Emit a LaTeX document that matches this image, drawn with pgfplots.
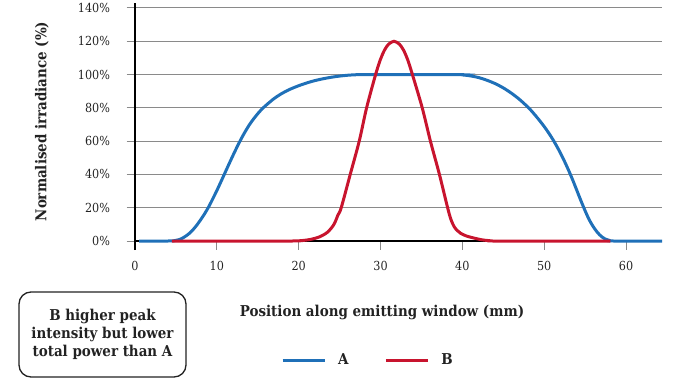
\documentclass[border=0pt]{standalone}
\usepackage{pgfplots}
\pgfplotsset{compat=1.18}
\usepackage{fontspec}
\setmainfont{DejaVu Serif Condensed}
\definecolor{cA}{HTML}{1F70B8}
\definecolor{cB}{HTML}{C8142E}
\definecolor{gridc}{HTML}{8A8A8A}
\definecolor{txt}{HTML}{222222}
\begin{document}
\begin{tikzpicture}[x=1bp,y=1bp]
\useasboundingbox (0,0) rectangle (680,380);
\begin{axis}[
  at={(135bp,139bp)}, anchor=south west,
  scale only axis, width=527bp, height=233bp,
  xmin=0, xmax=64.4, ymin=0, ymax=140,
  axis lines*=left,
  axis line style={black, line width=1.3bp},
  y axis line style={shorten >=-5bp, shorten <=-9bp},
  xtick={0,10,...,60}, ytick={0,20,...,140},
  yticklabels={0\%,20\%,40\%,60\%,80\%,100\%,120\%,140\%},
  tick align=outside, major tick length=8.5bp,
  tick style={gridc, line width=1bp},
  ymajorgrids, grid style={gridc, line width=1bp},
  /pgf/number format/assume math mode=true,
  tick label style={font=\fontsize{12.5}{14}\selectfont, text=txt},
  xticklabel style={yshift=-8bp},
  yticklabel style={xshift=-13bp},
  xlabel={Position along emitting window (mm)},
  ylabel={Normalised irradiance (\%)},
  label style={font=\bfseries\fontsize{15}{18}\selectfont, text=txt},
  xlabel style={at={(axis description cs:0.4687,-0.305)}, anchor=center},
  ylabel style={at={(axis description cs:-0.1765,0.513)}, anchor=center, rotate=0},
  legend style={at={(axis description cs:0.442,-0.511)}, anchor=center, draw=none,
    font=\bfseries\fontsize{15}{18}\selectfont, text=txt,
    /tikz/every odd column/.append style={column sep=10bp},
    /tikz/every even column/.append style={column sep=34bp}},
  legend columns=2,
  legend image code/.code={\draw[#1, line width=3bp] (0bp,0bp) -- (42bp,0bp);},
  clip=false,
]
\addplot[cA, line width=3bp, smooth] coordinates {
(0.5,0) (4,0) (4.7,0.1) (5,0.4) (5.5,1) (6,2.3) (6.5,4) (7,6.3) (7.5,9.2) (8,12.6) (8.5,16.3) (9,20.5) (9.5,25.3) (10,30.3) (10.5,35.6) (11,41) (11.5,46.4) (12,51.7) (12.5,56.8) (13,61.6) (13.5,66) (14,70) (14.5,73.4) (15,76.5) (15.5,79.2) (16,81.5) (17,85.6) (18,88.8) (19,91.3) (20,93.3) (21,95) (22,96.4) (23,97.5) (24,98.4) (25,99.1) (26,99.6) (27,99.9) (28,100) (39,100) (40,99.8) (41,99.2) (42,98.2) (43,96.6) (44,94.6) (45,92) (46,88.8) (47,85) (48,80.5) (48.5,77.9) (49,75) (49.5,72) (50,68.8) (50.5,65.3) (51,61.5) (51.5,57.3) (52,52.7) (52.5,47.7) (53,42.3) (53.5,36.5) (54,30.3) (54.5,24.1) (55,18.2) (55.5,12.8) (56,8.6) (56.5,5.2) (57,2.7) (57.5,1.1) (58,0.3) (58.5,0) (64.4,0)
};
\addlegendentry{A}
\addplot[cB, line width=3bp, smooth] coordinates {
(4.5,0) (19,0) (20,0.1) (20.5,0.3) (21,0.6) (21.5,1) (22,1.6) (22.5,2.4) (23,3.6) (23.5,5.2) (24,7.8) (24.4,10.8) (24.8,15.6) (25.2,20) (26.3,40) (27.4,60) (28.3,80) (29.4,100) (30,109.2) (30.5,114.8) (31,118.3) (31.65,120) (32.3,118.3) (32.8,114.8) (33.3,109.2) (33.9,100) (35.1,80) (36.1,60) (37.2,40) (38.2,20) (38.6,13) (39,8.6) (39.4,6.2) (39.8,4.6) (40.5,3) (41.4,1.8) (42.4,0.7) (43.5,0.1) (44,0) (58.1,0)
};
\addlegendentry{B}
\end{axis}
\draw[line width=1.3bp, rounded corners=12bp, txt] (19,3) rectangle (186,88);
\node[align=center, text=txt, font=\bfseries\fontsize{15}{18.3}\selectfont] at (102.5,45.5) {B higher peak\\intensity but lower\\total power than A};
\end{tikzpicture}
\end{document}
